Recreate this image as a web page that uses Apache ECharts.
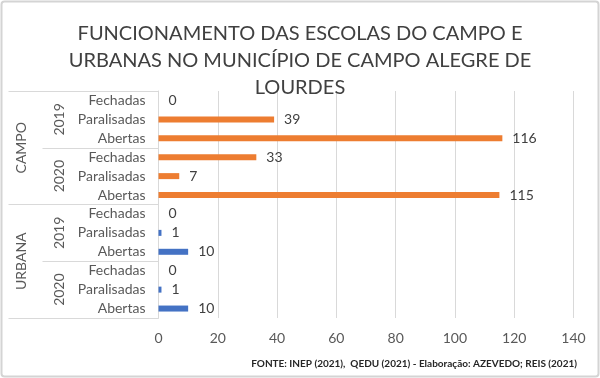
<!DOCTYPE html>
<html>
<head>
<meta charset="utf-8">
<script src="https://cdn.jsdelivr.net/npm/echarts@6/dist/echarts.min.js"></script>
<style>
html,body{margin:0;padding:0;background:#fff;}
#main{width:600px;height:378px;}
</style>
</head>
<body>
<div id="main"></div>
<script>
// ---- data ----
const groups = ['CAMPO', 'URBANA'];
const years = ['2019', '2020'];
const statuses = ['Fechadas', 'Paralisadas', 'Abertas'];
const campo2019 = [0, 39, 116];
const campo2020 = [33, 7, 115];
const urbana2019 = [0, 1, 10];
const urbana2020 = [0, 1, 10];
const xTicks = [0, 20, 40, 60, 80, 100, 120, 140];
const titleText = 'FUNCIONAMENTO DAS ESCOLAS DO CAMPO E\nURBANAS NO MUNICÍPIO DE CAMPO ALEGRE DE\nLOURDES';
const sourceText = 'FONTE: INEP (2021),  QEDU (2021) - Elaboração: AZEVEDO; REIS (2021)';

// ---- build category levels ----
const itemCats = [];
const yearCats = [];
groups.forEach(() => years.forEach(y => { yearCats.push(y); statuses.forEach(s => itemCats.push(s)); }));
const campoData = [...campo2019, ...campo2020, ...statuses.map(() => null), ...statuses.map(() => null)];
const urbanaData = [...statuses.map(() => null), ...statuses.map(() => null), ...urbana2019, ...urbana2020];

const FONT = 'Lato, "Open Sans", sans-serif';
const grid = {left: 158.5, right: 26.5, top: 91, bottom: 60};

const chart = echarts.init(document.getElementById('main'), null, {renderer: 'canvas'});

const labelStyle = {show: true, position: 'right', distance: 10, fontFamily: FONT, fontSize: 14, color: '#404040',
  formatter: p => p.value};

chart.setOption({
  animation: false,
  backgroundColor: '#fff',
  title: [{
    text: titleText, left: 'center', top: 15,
    textStyle: {fontFamily: FONT, fontSize: 20, fontWeight: 'normal', color: '#404040', lineHeight: 27}
  }, {
    text: sourceText, right: 18, top: 354,
    textStyle: {fontFamily: FONT, fontSize: 10, fontWeight: 'bold', color: '#262626'}
  }],
  grid: grid,
  xAxis: {
    type: 'value', min: 0, max: xTicks[xTicks.length - 1], interval: 20,
    axisLine: {show: false}, axisTick: {show: false},
    axisLabel: {fontFamily: FONT, fontSize: 14, color: '#595959', margin: 13},
    splitLine: {lineStyle: {color: '#d9d9d9', width: 1}}
  },
  yAxis: [{
    type: 'category', data: itemCats, inverse: true,
    axisLine: {show: true, lineStyle: {color: '#d9d9d9'}},
    axisTick: {show: false},
    axisLabel: {interval: 0, fontFamily: FONT, fontSize: 14, color: '#595959', margin: 13}
  }, {
    type: 'category', data: yearCats, inverse: true, position: 'left',
    axisLine: {show: false},
    axisTick: {show: true, length: 116, lineStyle: {color: '#d9d9d9'}},
    axisLabel: {interval: 0, rotate: 90, fontFamily: FONT, fontSize: 14, color: '#595959', margin: 92}
  }, {
    type: 'category', data: groups, inverse: true, position: 'left',
    axisLine: {show: false},
    axisTick: {show: true, length: 150, lineStyle: {color: '#d9d9d9'}},
    axisLabel: {interval: 0, rotate: 90, fontFamily: FONT, fontSize: 14, color: '#595959', margin: 130}
  }],
  series: [{
    name: 'CAMPO', type: 'bar', stack: 'g', yAxisIndex: 0, data: campoData, barWidth: 6,
    itemStyle: {color: '#ED7D31'},
    label: labelStyle
  }, {
    name: 'URBANA', type: 'bar', stack: 'g', yAxisIndex: 0, data: urbanaData, barWidth: 6,
    itemStyle: {color: '#4472C4'},
    label: labelStyle
  }],
  graphic: [{
    type: 'rect', shape: {x: 1.5, y: 1.5, width: 597, height: 375, r: 3},
    style: {fill: 'none', stroke: '#d4d4d4', lineWidth: 2}, silent: true
  }]
});
</script>
</body>
</html>
